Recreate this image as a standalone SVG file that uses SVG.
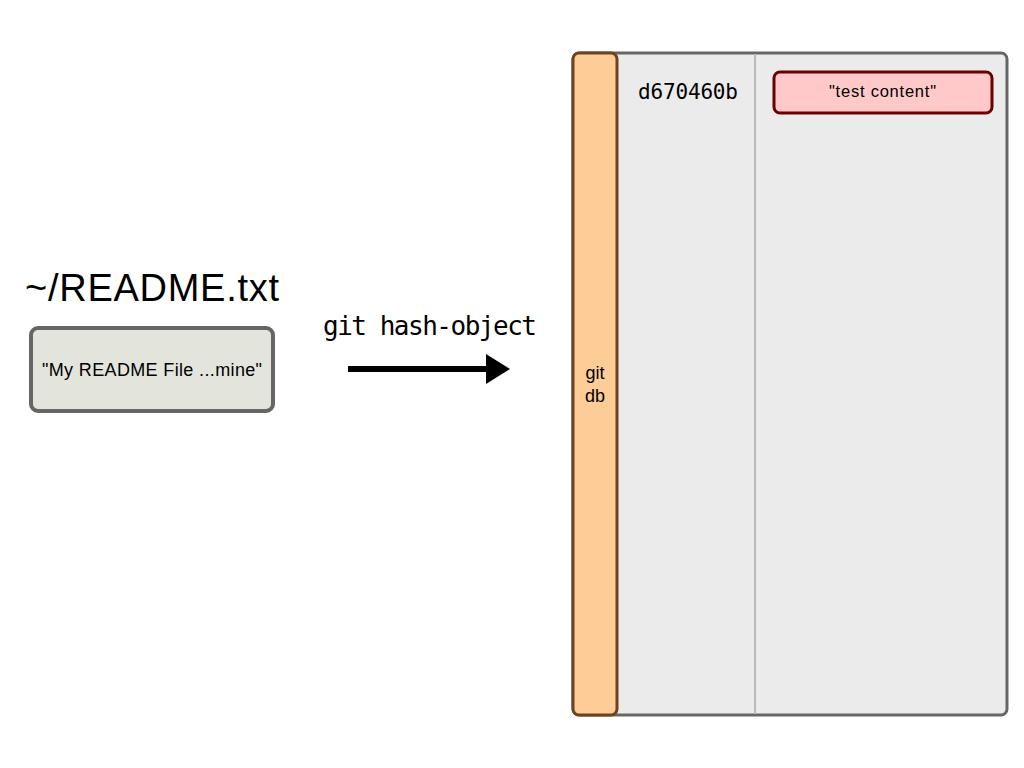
<svg xmlns="http://www.w3.org/2000/svg" width="1024" height="768" viewBox="0 0 1024 768">
<defs>
<style>
.sans{font-family:"Liberation Sans","DejaVu Sans",Arial,sans-serif;fill:#000}
.mono{font-family:"DejaVu Sans Mono","Liberation Mono",monospace;fill:#000}
</style>
<marker id="ah" markerWidth="4" markerHeight="5" refX="0.5" refY="2.5" orient="auto" markerUnits="strokeWidth">
<path d="M0,0 L4,2.5 L0,5 Z" fill="#000"/>
</marker>
</defs>
<rect width="1024" height="768" fill="#fff"/>
<g id="gitdb-panel">
<rect x="573" y="53" width="434" height="662" rx="6" fill="#ebebeb" stroke="#666" stroke-width="3"/>
<line x1="755" y1="54" x2="755" y2="714" stroke="#bbb" stroke-width="2"/>
</g>
<g id="gitdb-bar">
<rect x="573" y="53" width="44" height="662" rx="6" fill="#fecc96" stroke="#6b4420" stroke-width="3"/>
<text class="sans" x="595" y="379" font-size="18" text-anchor="middle">git</text>
<text class="sans" x="595" y="402" font-size="18" text-anchor="middle">db</text>
</g>
<g id="hash">
<text class="mono" x="638" y="99" font-size="21" textLength="100">d670460b</text>
</g>
<g id="blob">
<rect x="774" y="72" width="218" height="41" rx="6" fill="#ffc9c9" stroke="#6b0000" stroke-width="3"/>
<text class="sans" x="829" y="97" font-size="16.5" textLength="107">"test content"</text>
</g>
<g id="readme">
<text class="sans" x="25" y="301" font-size="38" textLength="254">~/README.txt</text>
<rect x="31" y="328" width="242" height="83" rx="7" fill="#e3e5dc" stroke="#666" stroke-width="4"/>
<text class="sans" x="42" y="376" font-size="18" textLength="220">"My README File ...mine"</text>
</g>
<g id="connectors">
<line x1="348" y1="369" x2="489" y2="369" stroke="#000" stroke-width="6" marker-end="url(#ah)"/>
<text class="mono" x="323" y="335" font-size="26" textLength="214">git hash-object</text>
</g>
</svg>
